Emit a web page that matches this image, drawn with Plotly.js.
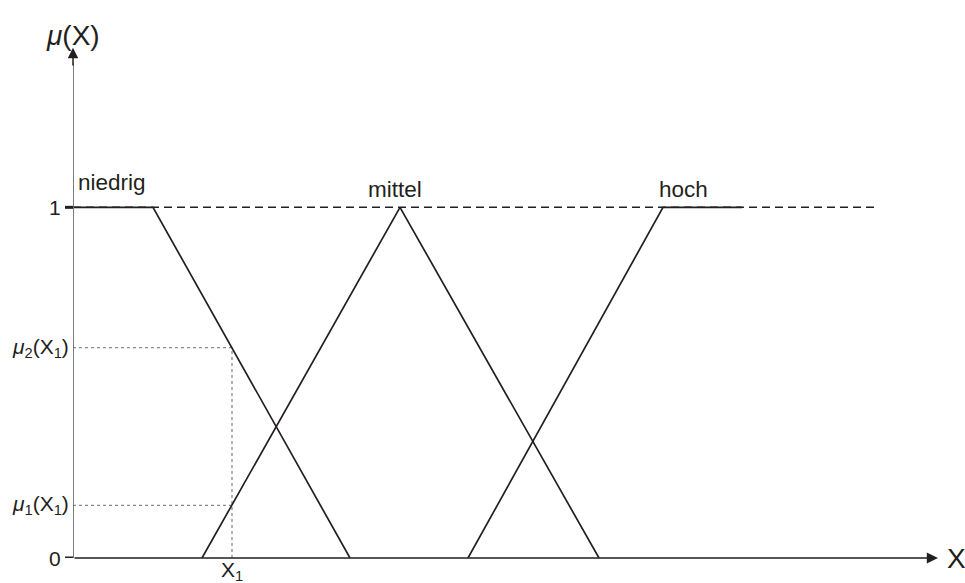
<!DOCTYPE html>
<html>
<head>
<meta charset="utf-8">
<script src="https://cdn.plot.ly/plotly-3.0.1.min.js"></script>
<style>
  html, body { margin: 0; padding: 0; background: #fff; }
  #chart { width: 965px; height: 583px; }
</style>
</head>
<body>
<div id="chart"></div>
<script>
// membership functions (x in arbitrary units, y = mu)
const xNiedrig = [0, 8.0, 27.7];
const yNiedrig = [1, 1, 0];
const xMittel = [12.9, 32.7, 52.6];
const yMittel = [0, 1, 0];
const xHoch = [39.5, 59.0, 66.9];
const yHoch = [0, 1, 1];
const xDashed = [0, 80.4];
const yDashed = [1, 1];

// example point X1 and its memberships
const x1 = 15.9;
const mu1 = 0.15;
const mu2 = 0.60;

const setNames = ['niedrig', 'mittel', 'hoch'];
const setLabelX = [3.9, 32.2, 61.0];
const setLabelY = [1.07, 1.05, 1.05];

const ink = '#231f20';
const font = { family: 'Liberation Sans, Arial, sans-serif', size: 21, color: ink };
const wordFont = Object.assign({}, font, { size: 22.5 });
const bigFont = Object.assign({}, font, { size: 28 });
const mu = '<i>μ</i>';

const line = (x, y, extra) => Object.assign({
    x: x, y: y, type: 'scatter', mode: 'lines', hoverinfo: 'skip',
    line: { color: ink, width: 1.7 }
}, extra || {});

const dotted = { color: '#8a8a8a', width: 1.3, dash: 'dot' };

const traces = [
    line(xDashed, yDashed, { line: { color: ink, width: 1.5, dash: '8px,5px' } }),
    line([x1, x1], [0, mu2], { line: dotted }),
    line([0, x1], [mu2, mu2], { line: dotted }),
    line([0, x1], [mu1, mu1], { line: dotted }),
    line(xNiedrig, yNiedrig),
    line(xMittel, yMittel),
    line(xHoch, yHoch),
];

const annotations = [
    // y axis arrow head
    { x: 0, y: 1.455, ax: 0, ay: 1.40, axref: 'x', ayref: 'y', text: '', showarrow: true,
      arrowhead: 2, arrowsize: 1.4, arrowwidth: 1.5, arrowcolor: ink, standoff: 0 },
    // x axis arrow
    { x: 86.5, y: 0, ax: 0, ay: 0, axref: 'x', ayref: 'y', text: '', showarrow: true,
      arrowhead: 2, arrowsize: 1.4, arrowwidth: 1.6, arrowcolor: ink, standoff: 0 },
    { x: 0, y: 1.49, text: mu + '(X)', showarrow: false, xanchor: 'center', yanchor: 'middle',
      font: bigFont },
    { x: 88.3, y: 0, text: 'X', showarrow: false, xanchor: 'center', yanchor: 'middle',
      font: bigFont },
    { x: x1, y: 0, yshift: -13, text: 'X<sub>1</sub>', showarrow: false,
      xanchor: 'center', yanchor: 'middle', font: font },
    { xref: 'paper', x: 0, y: 1, xshift: -10, text: '1', showarrow: false,
      xanchor: 'right', yanchor: 'middle', font: font },
    { xref: 'paper', x: 0, y: 0, xshift: -10, text: '0', showarrow: false,
      xanchor: 'right', yanchor: 'middle', font: font },
    { xref: 'paper', x: 0, y: mu2, xshift: -2, text: mu + '<sub>2</sub>(X<sub>1</sub>)', showarrow: false,
      xanchor: 'right', yanchor: 'middle', font: font },
    { xref: 'paper', x: 0, y: mu1, xshift: -2, text: mu + '<sub>1</sub>(X<sub>1</sub>)', showarrow: false,
      xanchor: 'right', yanchor: 'middle', font: font },
];
setNames.forEach((name, i) => {
    annotations.push({ x: setLabelX[i], y: setLabelY[i], text: name, showarrow: false,
        xanchor: 'center', yanchor: 'middle', font: wordFont });
});

const layout = {
    width: 965,
    height: 583,
    margin: { l: 73, r: 2, t: 32, b: 25 },
    paper_bgcolor: '#fff',
    plot_bgcolor: '#fff',
    showlegend: false,
    xaxis: { range: [0, 89], visible: false, fixedrange: true },
    yaxis: { range: [0, 1.5], visible: false, fixedrange: true },
    shapes: [
        // grey y axis line
        { type: 'line', xref: 'x', yref: 'y', x0: 0, x1: 0, y0: 0, y1: 1.41,
          line: { color: '#6d6d6d', width: 1.8 } },
        // little tick marks at 0 and 1
        { type: 'line', xref: 'paper', yref: 'y', x0: -8 / 890, x1: 0, y0: 1, y1: 1,
          line: { color: ink, width: 3 } },
        { type: 'line', xref: 'paper', yref: 'y', x0: -8 / 890, x1: 0, y0: 0, y1: 0,
          line: { color: ink, width: 3 } },
    ],
    annotations: annotations,
};

Plotly.newPlot('chart', traces, layout, { displayModeBar: false, staticPlot: true });
</script>
</body>
</html>
